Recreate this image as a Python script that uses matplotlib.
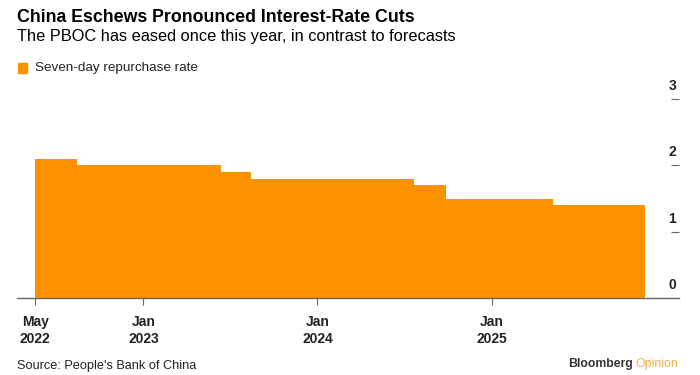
import matplotlib
matplotlib.use("Agg")
import matplotlib.pyplot as plt
import matplotlib.transforms as mtransforms
from datetime import datetime

# seven-day reverse repo rate, value holds until next date
dates = ["2022-05-19", "2022-08-15", "2023-06-13", "2023-08-15",
         "2024-07-22", "2024-09-27", "2025-05-08", "2025-11-18"]
rate = [2.1, 2.0, 1.9, 1.8, 1.7, 1.5, 1.4, 1.4]

xtick_dates = ["2022-05-19", "2023-01-01", "2024-01-01", "2025-01-01"]
xtick_labels = ["May\n2022", "Jan\n2023", "Jan\n2024", "Jan\n2025"]
yticks = [0, 1, 2, 3]

ORANGE = "#fd9200"
plt.rcParams["font.family"] = ["Liberation Sans", "DejaVu Sans"]

x = [datetime.strptime(d, "%Y-%m-%d") for d in dates]
xt = [datetime.strptime(d, "%Y-%m-%d") for d in xtick_dates]

fig = plt.figure(figsize=(7, 3.75), dpi=100)
ax = fig.add_axes([17 / 700, 77 / 375, 662 / 700, 199 / 375])

ax.fill_between(x, rate, 0, step="post", color=ORANGE, linewidth=0)

ax.set_xlim(datetime(2022, 4, 11), datetime(2026, 1, 28))
ax.set_ylim(0, 3)

for s in ["top", "left", "right"]:
    ax.spines[s].set_visible(False)
ax.spines["bottom"].set_color("#666666")
ax.spines["bottom"].set_linewidth(1.0)

ax.set_xticks(xt)
ax.set_xticklabels(xtick_labels, fontsize=10, fontweight="bold",
                   color="#222222", linespacing=1.3)
ax.tick_params(axis="x", length=5, width=0.8, color="#666666", pad=7)

ax.set_yticks(yticks[1:])
ax.yaxis.tick_right()
ax.tick_params(axis="y", direction="in", length=6, width=0.8,
               color="#666666", labelright=False)

# y labels sit just above their tick dashes
trans = mtransforms.blended_transform_factory(ax.transAxes, ax.transData)
off = mtransforms.offset_copy(trans, fig=fig, x=-3, y=13, units="dots")
for v in yticks:
    ax.text(1.0, v, str(v), transform=off, ha="right", va="center",
            fontsize=10, fontweight="bold", color="#222222", clip_on=False)

fig.text(17 / 700, 1 - 17 / 375, "China Eschews Pronounced Interest-Rate Cuts",
         fontsize=12.8, fontweight="bold", va="center", ha="left")
fig.text(17 / 700, 1 - 37 / 375,
         "The PBOC has eased once this year, in contrast to forecasts",
         fontsize=11.8, va="center", ha="left")

fig.patches.append(plt.Rectangle((18 / 700, 1 - 72.5 / 375), 9 / 700, 9 / 375,
                                 transform=fig.transFigure, color=ORANGE))
fig.text(35 / 700, 1 - 68 / 375, "Seven-day repurchase rate",
         fontsize=9.7, va="center", ha="left", color="#222222")

fig.text(17 / 700, 1 - 366 / 375, "Source: People's Bank of China",
         fontsize=9.2, va="center", ha="left", color="#222222")
op = fig.text(678 / 700, 1 - 364 / 375, "Opinion", fontsize=8.8,
              va="center", ha="right", color="#f2ac4e")
ax.annotate("Bloomberg", xy=(0, 0.5), xycoords=op, xytext=(-1.5, 0),
            textcoords="offset points", ha="right", va="center",
            fontsize=8.8, fontweight="bold", color="#333333",
            annotation_clip=False)

fig.savefig("out.png", dpi=100)
